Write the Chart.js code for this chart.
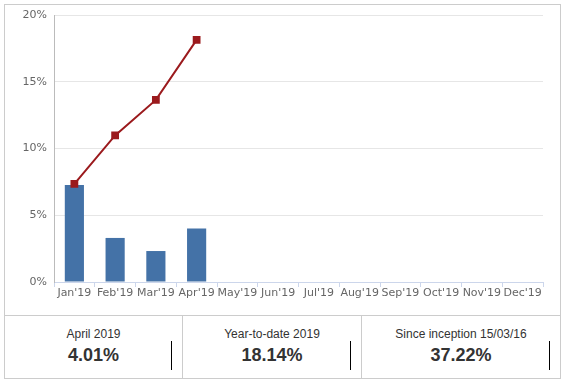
<!DOCTYPE html>
<html>
<head>
<meta charset="utf-8">
<script src="https://cdn.jsdelivr.net/npm/chart.js@4.4.1/dist/chart.umd.min.js"></script>
<style>
  html, body { margin: 0; padding: 0; background: #fff; }
  #frame { position: absolute; left: 4px; top: 4px; width: 555px; height: 373px; border: 1px solid #cccccc; }
  #chartBox { position: absolute; left: 0; top: 0; width: 555px; height: 310px; }
  #stats { position: absolute; left: 0; top: 310px; width: 555px; height: 63px; border-top: 1px solid #cccccc; }
  .cell { position: absolute; top: 0; height: 63px; font-family: "Liberation Sans", Arial, sans-serif; color: #333; text-align: center; }
  .cell .lbl { position: absolute; left: 0; right: 0; top: 11px; font-size: 12px; line-height: 14px; }
  .cell .val { position: absolute; left: 0; right: 0; top: 29px; font-size: 18px; font-weight: bold; line-height: 21px; color: #333; }
  .cell .mark { position: absolute; top: 25px; width: 1px; height: 29px; background: #000; }
  .sep { position: absolute; top: 0; width: 1px; height: 63px; background: #cccccc; }
</style>
</head>
<body>
<div id="frame">
  <div id="chartBox"><canvas id="c"></canvas></div>
  <div id="stats"></div>
</div>
<script>
const categories = ["Jan'19","Feb'19","Mar'19","Apr'19","May'19","Jun'19","Jul'19","Aug'19","Sep'19","Oct'19","Nov'19","Dec'19"];
const monthlyReturn = [7.27, 3.30, 2.32, 4.01, null, null, null, null, null, null, null, null];
const cumulativeReturn = [7.35, 10.98, 13.64, 18.14, null, null, null, null, null, null, null, null];
const yTicks = [0, 5, 10, 15, 20];
const statLabels = ["April 2019", "Year-to-date 2019", "Since inception 15/03/16"];
const statValues = ["4.01%", "18.14%", "37.22%"];

// stats panel
const stats = document.getElementById('stats');
const cells = [[0, 177], [178, 178], [357, 198]];
cells.forEach((c, i) => {
  const d = document.createElement('div');
  d.className = 'cell';
  d.style.left = c[0] + 'px';
  d.style.width = c[1] + 'px';
  d.innerHTML = '<div class="lbl">' + statLabels[i] + '</div><div class="val">' + statValues[i] + '</div>';
  const m = document.createElement('div');
  m.className = 'mark';
  m.style.left = (c[1] - 11) + 'px';
  d.appendChild(m);
  stats.appendChild(d);
  if (i > 0) {
    const s = document.createElement('div');
    s.className = 'sep';
    s.style.left = (c[0] - 1) + 'px';
    stats.appendChild(s);
  }
});

const tickFont = { family: "'DejaVu Sans', Verdana, sans-serif", size: 11 };
new Chart(document.getElementById('c'), {
  data: {
    labels: categories,
    datasets: [
      {
        type: 'line',
        data: cumulativeReturn,
        borderColor: '#9b1a1d',
        backgroundColor: '#9b1a1d',
        borderWidth: 2,
        pointStyle: 'rect',
        pointRadius: 5.5,
        pointBorderWidth: 0,
        pointBackgroundColor: '#9b1a1d',
        spanGaps: false,
        order: 0
      },
      {
        type: 'bar',
        data: monthlyReturn,
        backgroundColor: '#4472a7',
        borderWidth: 0,
        barPercentage: 1,
        categoryPercentage: 0.47,
        order: 1
      }
    ]
  },
  options: {
    responsive: true,
    maintainAspectRatio: false,
    animation: false,
    layout: { padding: { left: 0, right: 17, top: 10, bottom: 0 } },
    plugins: { legend: { display: false }, tooltip: { enabled: false } },
    scales: {
      x: {
        offset: true,
        grid: { drawOnChartArea: false, drawTicks: true, tickLength: 5, color: '#ccd6eb', offset: true },
        border: { color: '#ccd6eb', width: 1 },
        ticks: { font: tickFont, color: '#666666', padding: 0, maxRotation: 0, autoSkip: false },
        afterFit: (s) => { s.height = 33; s.paddingLeft = 0; s.paddingRight = 0; }
      },
      y: {
        min: 0, max: 20,
        afterBuildTicks: (s) => { s.ticks = yTicks.map(v => ({ value: v })); },
        grid: { color: '#e6e6e6', drawTicks: false },
        border: { color: '#bbbbbb', width: 1 },
        ticks: { font: tickFont, color: '#666666', padding: 7, callback: (v) => v + '%' },
        afterFit: (s) => { s.width = 49; s.paddingTop = 0; s.paddingBottom = 0; }
      }
    }
  }
});
</script>
</body>
</html>
